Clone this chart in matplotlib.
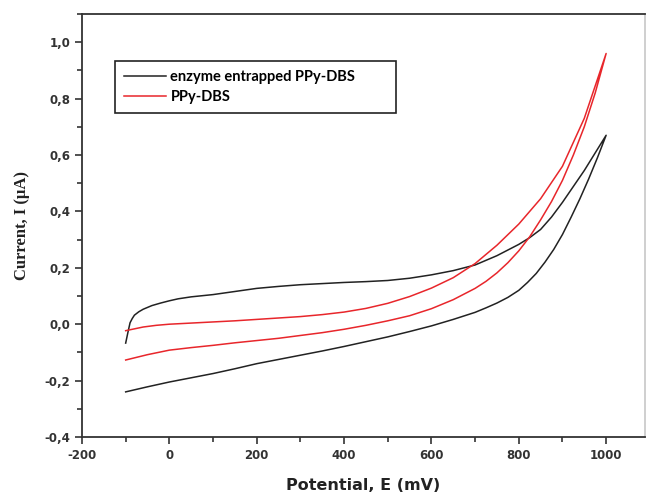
import matplotlib
matplotlib.use("Agg")
import matplotlib.pyplot as plt
from matplotlib.ticker import MultipleLocator, FuncFormatter

plt.rcParams["axes.unicode_minus"] = False

# enzyme entrapped PPy-DBS, forward scan then reverse scan (mV, uA)
enz_fwd_x = [-100, -95, -90, -85, -80, -70, -60, -40, -20, 0, 20, 50, 100, 150, 200, 250, 300, 350, 400,
             450, 500, 550, 600, 650, 700, 750, 800, 825, 850, 875, 900, 950, 1000]
enz_fwd_y = [-0.067, -0.03, 0.005, 0.02, 0.032, 0.044, 0.053, 0.066, 0.075, 0.083, 0.09, 0.097, 0.105, 0.116,
             0.127, 0.134, 0.140, 0.144, 0.148, 0.151, 0.155, 0.163, 0.175, 0.19, 0.21, 0.243, 0.283, 0.307,
             0.336, 0.38, 0.432, 0.545, 0.67]
enz_rev_x = [1000, 980, 960, 940, 920, 900, 880, 860, 840, 820, 800, 775, 750, 725, 700, 650, 600, 550, 500,
             450, 400, 350, 300, 250, 200, 150, 100, 50, 0, -50, -100]
enz_rev_y = [0.67, 0.59, 0.515, 0.445, 0.38, 0.318, 0.265, 0.22, 0.18, 0.148, 0.12, 0.095, 0.075, 0.058, 0.042,
             0.017, -0.006, -0.026, -0.045, -0.062, -0.079, -0.095, -0.11, -0.125, -0.14, -0.158, -0.175,
             -0.19, -0.205, -0.222, -0.24]

# PPy-DBS
ppy_fwd_x = [-100, -60, -30, 0, 50, 100, 150, 200, 250, 300, 350, 400, 450, 500, 550, 600, 650, 700, 750,
             800, 850, 900, 950, 1000]
ppy_fwd_y = [-0.023, -0.01, -0.004, 0.0, 0.004, 0.008, 0.012, 0.017, 0.022, 0.027, 0.034, 0.043, 0.056, 0.074,
             0.098, 0.128, 0.165, 0.215, 0.28, 0.355, 0.445, 0.56, 0.73, 0.96]
ppy_rev_x = [1000, 975, 950, 925, 900, 875, 850, 825, 800, 775, 750, 725, 700, 650, 600, 550, 500, 450, 400,
             350, 300, 250, 200, 150, 100, 50, 0, -50, -100]
ppy_rev_y = [0.96, 0.82, 0.70, 0.60, 0.51, 0.435, 0.37, 0.31, 0.26, 0.218, 0.182, 0.152, 0.127, 0.087, 0.055,
             0.03, 0.012, -0.004, -0.018, -0.03, -0.04, -0.05, -0.058, -0.066, -0.075, -0.083, -0.092,
             -0.108, -0.127]

fig = plt.figure(figsize=(6.47, 4.98), dpi=100)
ax = fig.add_axes([82/647, 1-437/498, (645-82)/647, (437-14)/498])

ax.plot(enz_fwd_x + enz_rev_x, enz_fwd_y + enz_rev_y, color="#222222", lw=1.1,
        label="enzyme entrapped PPy-DBS         ")
ax.plot(ppy_fwd_x + ppy_rev_x, ppy_fwd_y + ppy_rev_y, color="#e8262b", lw=1.1,
        label="PPy-DBS")

ax.set_xlim(-200, 1089)
ax.set_ylim(-0.4, 1.1)
ax.xaxis.set_major_locator(MultipleLocator(200))
ax.xaxis.set_minor_locator(MultipleLocator(100))
ax.yaxis.set_major_locator(MultipleLocator(0.2))
ax.yaxis.set_minor_locator(MultipleLocator(0.1))
ax.xaxis.set_major_formatter(FuncFormatter(lambda v, p: "%d" % round(v)))
ax.yaxis.set_major_formatter(FuncFormatter(lambda v, p: ("%.1f" % v).replace(".", ",")))
ax.tick_params(which="both", direction="out", top=False, right=False, width=1.2, colors="#333333")
ax.tick_params(which="major", length=5, labelsize=8.5)
ax.tick_params(which="minor", length=3.5)
for lab in ax.get_xticklabels() + ax.get_yticklabels():
    lab.set_fontweight("bold")
    lab.set_color("#333333")
for s in ax.spines.values():
    s.set_linewidth(1.3)
    s.set_color("#333333")
ax.spines["right"].set_color("#cccccc")

ax.set_xlabel("Potential, E (mV)", fontsize=11.5, fontweight="bold", labelpad=12, color="#222222")
ax.set_ylabel("Current, I (\u03bcA)", fontsize=12, fontweight="bold", family="Liberation Serif",
              labelpad=10, color="#222222")

leg = ax.legend(loc="upper left", bbox_to_anchor=(33/563, (437-61)/423), borderaxespad=0,
                fancybox=False, edgecolor="#222222", framealpha=1,
                prop={"family": "Lato", "weight": "bold", "size": 10.5},
                handlelength=2.9, handletextpad=0.3, labelspacing=0.45, borderpad=0.6)
leg.get_frame().set_linewidth(1.2)

fig.savefig("out.png", dpi=100)
